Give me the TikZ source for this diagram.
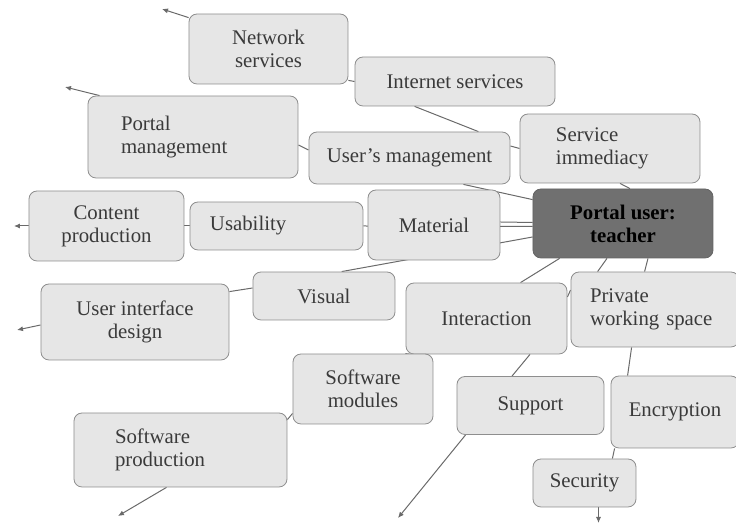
\documentclass[tikz,border=0pt]{standalone}
\usepackage{fontspec}
\setmainfont{Liberation Serif}
\usetikzlibrary{arrows.meta,backgrounds}

\definecolor{boxfill}{HTML}{E6E6E6}
\definecolor{boxline}{HTML}{8E8E8E}
\definecolor{boxtext}{HTML}{3A3A3A}
\definecolor{mainfill}{HTML}{707070}
\definecolor{mainline}{HTML}{646464}
\definecolor{linkgray}{HTML}{6A6A6A}

\begin{document}
\begin{tikzpicture}[x=0.5pt,y=-0.5pt,
  box/.style={draw=boxline,fill=boxfill,rounded corners=4pt,align=center,
    text=boxtext,inner sep=2pt,font=\fontsize{10.4}{11.5}\selectfont},
  mainbox/.style={box,draw=mainline,fill=mainfill,text=black,
    font=\fontsize{10.4}{11.5}\selectfont\bfseries},
  link/.style={draw=linkgray,line width=0.5pt},
  freelink/.style={link,-{Latex[length=3pt,width=2.6pt]}}]
  \useasboundingbox (0,0) rectangle (736,528);
  % Centre
  \node[mainbox,minimum width=90pt,minimum height=34.5pt] (user) at (623,223.5) {Portal user:\\teacher};
  % Upper branch
  \node[box,minimum width=79.5pt,minimum height=35pt] (net) at (268.5,49) {Network\\services};
  \node[box,minimum width=100pt,minimum height=24.5pt] (inet) at (455,81.5) {Internet services};
  \node[box,minimum width=105pt,minimum height=41pt,inner xsep=16.5pt,text width=72pt,align=left] (pman) at (193,137) {Portal\\management};
  \node[box,minimum width=100.5pt,minimum height=26pt] (uman) at (409.5,158) {User's management};
  \node[box,minimum width=90pt,minimum height=34.5pt,inner xsep=18pt,text width=54pt,align=left] (simm) at (610,148.5) {Service\\immediacy};
  % Left branch
  \node[box,minimum width=66pt,minimum height=35pt] (mat) at (434,225) {Material};
  \node[box,minimum width=86.5pt,minimum height=24pt,inner xsep=10pt,text width=66.5pt,align=left] (usab) at (276.5,226) {Usability};
  \node[box,minimum width=77.5pt,minimum height=35pt] (cont) at (106.5,226) {Content\\production};
  \node[box,minimum width=71pt,minimum height=24pt] (vis) at (324,296) {Visual};
  \node[box,minimum width=94pt,minimum height=38pt] (uid) at (135,322) {User interface\\design};
  % Lower branch
  \node[box,minimum width=80.5pt,minimum height=35.5pt] (inter) at (486.5,318.5) {Interaction};
  \node[box,minimum width=84pt,minimum height=37.5pt,inner xsep=9.5pt,text width=65pt,align=left] (pws) at (655,309.5) {Private\\working space};
  \node[box,minimum width=70pt,minimum height=35pt] (smod) at (363,389) {Software\\modules};
  \node[box,minimum width=73.5pt,minimum height=29pt] (supp) at (530.5,405.5) {Support};
  \node[box,minimum width=64pt,minimum height=36pt] (encr) at (675,412) {Encryption};
  \node[box,minimum width=106.5pt,minimum height=37pt,inner xsep=20.5pt,text width=65.5pt,align=left] (sprod) at (180.5,450) {Software\\production};
  \node[box,minimum width=51.5pt,minimum height=24pt] (secu) at (584.5,483) {Security};
  % Free ends
  \coordinate (e1) at (162,9);
  \coordinate (e2) at (65,87);
  \coordinate (e3) at (14,226);
  \coordinate (e4) at (17,330);
  \coordinate (e5) at (118,516);
  \coordinate (e6) at (398,518);
  \coordinate (e7) at (598.5,523);
  % Connectors
  \begin{pgfonlayer}{background}
    \draw[link] ([yshift=2pt]net.south east) -- (inet.west);
    \draw[link] ([xshift=30pt]inet.south west) -- ([xshift=-16pt]uman.north east);
    \draw[link] ([yshift=-4pt]pman.east) -- ([yshift=4pt]uman.west);
    \draw[link] ([yshift=6pt]uman.east) -- (simm.west);
    \draw[link] ([xshift=-23.5pt]uman.south east) -- ([yshift=-5.5pt]user.north west);
    \draw[link] ([xshift=5pt]simm.south) -- ([xshift=3.5pt]user.north);
    \draw[link] (usab.east) -- ([yshift=-1.5pt]user.west);
    \draw[link] ([yshift=1.5pt]mat.east) -- ([yshift=0.5pt]user.west);
    \draw[link] (cont.east) -- (usab.west);
    \draw[link] ([xshift=44.5pt]vis.north west) -- ([yshift=-6.75pt]user.west);
    \draw[link] ([yshift=-4pt]uid.north east) -- ([yshift=4pt]vis.west);
    \draw[link] ([xshift=13.5pt]user.south west) -- ([xshift=17pt]inter.north);
    \draw[link] ([xshift=-8pt]user.south) -- ([xshift=13.5pt]pws.north west);
    \draw[link] ([xshift=12.5pt]user.south) -- ([xshift=37pt]pws.north west);
    \draw[link] ([yshift=10.75pt]inter.east) -- ([yshift=9.75pt]pws.west);
    \draw[link] ([xshift=3pt]inter.south west) -- ([xshift=-14pt]smod.north east);
    \draw[link] ([xshift=21.75pt]inter.south) -- ([xshift=-9.25pt]supp.north);
    \draw[link] ([xshift=30.5pt]pws.south west) -- ([xshift=8.5pt]encr.north west);
    \draw[link] ([xshift=2pt]encr.south west) -- ([xshift=-12pt]secu.north east);
    \draw[link] ([yshift=5.5pt]smod.south west) -- ([yshift=-3.5pt]sprod.north east);
    % to outside
    \draw[freelink] ([yshift=-2pt]net.north west) -- (e1);
    \draw[freelink] ([xshift=6pt]pman.north west) -- (e2);
    \draw[freelink] (cont.west) -- (e3);
    \draw[freelink] ([yshift=-1.5pt]uid.west) -- (e4);
    \draw[freelink] ([xshift=-7pt]sprod.south) -- (e5);
    \draw[freelink] ([xshift=4.5pt]supp.south west) -- (e6);
    \draw[freelink] ([xshift=7pt]secu.south) -- (e7);
  \end{pgfonlayer}
\end{tikzpicture}
\end{document}
